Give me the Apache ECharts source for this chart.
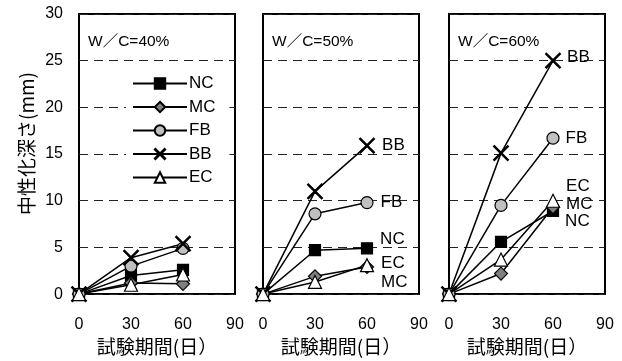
<!DOCTYPE html>
<html>
<head>
<meta charset="utf-8">
<script src="https://cdn.jsdelivr.net/npm/echarts@6/dist/echarts.min.js"></script>
<style>
  html, body { margin: 0; padding: 0; background: #fff; }
  #main { width: 622px; height: 361px; }
</style>
</head>
<body>
<div id="main"></div>
<script>
// 試験期間 (x)
var days = [0, 30, 60];
var panelTitles = ['W／C=40%', 'W／C=50%', 'W／C=60%'];
var seriesNames = ['NC', 'MC', 'FB', 'BB', 'EC'];

// 中性化深さ(mm), one row per panel (W/C=40, 50, 60)
var NC = [[0, 2.0, 2.6], [0, 4.7, 4.9], [0, 5.6, 8.9]];
var MC = [[0, 1.2, 1.1], [0, 1.9, 2.9], [0, 2.2, 9.3]];
var FB = [[0, 3.0, 4.9], [0, 8.6, 9.8], [0, 9.5, 16.7]];
var BB = [[0, 3.9, 5.4], [0, 11.0, 15.9], [0, 15.1, 25.0]];
var EC = [[0, 1.0, 2.1], [0, 1.3, 3.1], [0, 3.7, 10.0]];
var values = { NC: NC, MC: MC, FB: FB, BB: BB, EC: EC };

// end-of-line label offsets (panels 2 and 3 only)
var labelOffsets = [
  null,
  { NC: [2, -9], MC: [2, 15], FB: [2, 0], BB: [2, 0], EC: [2, -2] },
  { NC: [1, 10], MC: [1, -3], FB: [1, 0], BB: [1, -3], EC: [1, -14] }
];

var symbols = {
  NC: { symbol: 'rect', symbolSize: 11, color: '#000' },
  MC: { symbol: 'diamond', symbolSize: 13, color: '#7f7f7f' },
  FB: { symbol: 'circle', symbolSize: 12, color: '#c0c0c0' },
  BB: { symbol: 'path://M0,0.6L0.6,0L5,4.4L9.4,0L10,0.6L5.6,5L10,9.4L9.4,10L5,5.6L0.6,10L0,9.4L4.4,5Z', symbolSize: 15, color: '#000' },
  EC: { symbol: 'triangle', symbolSize: 13, color: '#fff' }
};

var gridLefts = [79, 263, 449];
var fontNum = 'Liberation Sans, Arial, sans-serif';
var fontJp = 'Noto Sans CJK JP, sans-serif';

var chart = echarts.init(document.getElementById('main'), null, { renderer: 'canvas' });

var grids = [], xAxes = [], yAxes = [], series = [], graphics = [];
gridLefts.forEach(function (left, p) {
  grids.push({ left: left, top: 14, width: 156, height: 282, show: true,
    borderColor: '#000', borderWidth: 2, backgroundColor: 'transparent' });
  xAxes.push({
    gridIndex: p, type: 'value', min: 0, max: 90, interval: 30,
    name: '試験期間(日）', nameLocation: 'middle', nameGap: 37,
    nameTextStyle: { fontFamily: fontJp, fontSize: 19, color: '#000' },
    axisLine: { show: false }, axisTick: { show: false }, splitLine: { show: false },
    axisLabel: { margin: 22, fontFamily: fontNum, fontSize: 16, color: '#000',
      showMinLabel: true, showMaxLabel: true }
  });
  yAxes.push({
    gridIndex: p, type: 'value', min: 0, max: 30, interval: 5,
    axisLine: { show: false }, axisTick: { show: false },
    splitLine: { show: true, lineStyle: { color: '#222', type: [9, 6], width: 1 } },
    axisLabel: { show: p === 0, margin: 16, fontFamily: fontNum, fontSize: 16, color: '#000' }
  });
  graphics.push({ type: 'text', left: left + 9, top: 34,
    style: { text: panelTitles[p], fontFamily: fontNum + ', ' + fontJp, fontSize: 15.5, fill: '#000' } });

  seriesNames.forEach(function (name) {
    var s = symbols[name];
    var pts = values[name][p].map(function (v, i) {
      var item = { value: [days[i], v] };
      if (labelOffsets[p] && i === days.length - 1) {
        item.label = { show: true, position: 'right', offset: labelOffsets[p][name],
          formatter: name, fontFamily: fontNum, fontSize: 17, color: '#000' };
      }
      return item;
    });
    series.push({
      name: name, type: 'line', xAxisIndex: p, yAxisIndex: p,
      data: pts, symbol: s.symbol, symbolSize: s.symbolSize, clip: false,
      showAllSymbol: true, animation: false,
      lineStyle: { color: '#000', width: 1.5 },
      itemStyle: { color: s.color, borderColor: '#000', borderWidth: 1.2, opacity: 1 },
      z: 3
    });
  });
});

graphics.push({
  type: 'text', left: 17, top: 72, rotation: Math.PI / 2,
  style: { text: '中性化深さ(mm)', fontFamily: fontJp, fontSize: 19, fill: '#000' }
});

var option = {
  backgroundColor: '#fff',
  animation: false,
  grid: grids,
  xAxis: xAxes,
  yAxis: yAxes,
  legend: {
    data: seriesNames, orient: 'vertical', left: 126, top: 71,
    padding: [4, 14, 3, 6], backgroundColor: '#fff',
    itemWidth: 54, itemHeight: 13, itemGap: 6.5,
    textStyle: { fontFamily: fontNum, fontSize: 17, color: '#000', width: 24, padding: [0, 0, 0, -3] },
    selectedMode: false
  },
  graphic: graphics,
  series: series
};
chart.setOption(option);
</script>
</body>
</html>
